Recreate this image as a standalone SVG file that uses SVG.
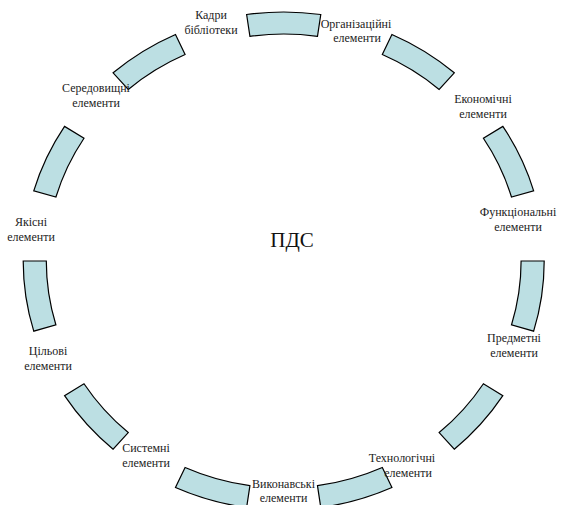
<svg xmlns="http://www.w3.org/2000/svg" width="569" height="505" viewBox="0 0 569 505">
<style>
.seg{fill:#BCDFE3;stroke:#000;stroke-width:1.2;stroke-linejoin:miter}
.lbl{font-family:"Liberation Serif","Times New Roman",serif;font-size:12px;fill:#222;text-anchor:middle}
.ctr{font-family:"Liberation Serif","Times New Roman",serif;font-size:21px;fill:#111;text-anchor:middle}
</style>
<rect width="569" height="505" fill="#fff"/>
<g id="connectors">
<path class="seg" d="M246.63 14.53 A260.5 249 0 0 1 320.77 14.53 L317.48 36.31 A237.4 227 0 0 0 249.92 36.31 Z"/>
<path class="seg" d="M391.92 34.50 A260.5 249 0 0 1 454.29 72.82 L439.16 89.44 A237.4 227 0 0 0 382.32 54.51 Z"/>
<path class="seg" d="M502.85 126.38 A260.5 249 0 0 1 533.65 190.85 L511.48 197.05 A237.4 227 0 0 0 483.41 138.27 Z"/>
<path class="seg" d="M544.2 261 A260.5 249 0 0 1 533.65 331.15 L511.48 324.95 A237.4 227 0 0 0 521.1 261 Z"/>
<path class="seg" d="M502.85 395.62 A260.5 249 0 0 1 454.29 449.18 L439.16 432.56 A237.4 227 0 0 0 483.41 383.73 Z"/>
<path class="seg" d="M391.92 487.50 A260.5 249 0 0 1 320.77 507.47 L317.48 485.69 A237.4 227 0 0 0 382.32 467.49 Z"/>
<path class="seg" d="M246.63 507.47 A260.5 249 0 0 1 175.48 487.50 L185.08 467.49 A237.4 227 0 0 0 249.92 485.69 Z"/>
<path class="seg" d="M113.11 449.18 A260.5 249 0 0 1 64.55 395.62 L83.99 383.73 A237.4 227 0 0 0 128.24 432.56 Z"/>
<path class="seg" d="M33.75 331.15 A260.5 249 0 0 1 23.2 261 L46.3 261 A237.4 227 0 0 0 55.92 324.95 Z"/>
<path class="seg" d="M33.75 190.85 A260.5 249 0 0 1 64.55 126.38 L83.99 138.27 A237.4 227 0 0 0 55.92 197.05 Z"/>
<path class="seg" d="M113.11 72.82 A260.5 249 0 0 1 175.48 34.50 L185.08 54.51 A237.4 227 0 0 0 128.24 89.44 Z"/>
</g>
<g id="center"><text class="ctr" x="292" y="247">ПДС</text></g>
<g id="n-kadry"><text class="lbl"><tspan x="211" y="19">Кадри</tspan><tspan x="211" y="33.5">бібліотеки</tspan></text></g>
<g id="n-org"><text class="lbl"><tspan x="356" y="27.5">Організаційні</tspan><tspan x="357" y="42">елементи</tspan></text></g>
<g id="n-ekon"><text class="lbl"><tspan x="483" y="103">Економічні</tspan><tspan x="483" y="118">елементи</tspan></text></g>
<g id="n-funk"><text class="lbl"><tspan x="518" y="216">Функціональні</tspan><tspan x="518" y="231">елементи</tspan></text></g>
<g id="n-predm"><text class="lbl"><tspan x="514" y="342">Предметні</tspan><tspan x="514" y="357">елементи</tspan></text></g>
<g id="n-tekhn"><text class="lbl"><tspan x="402" y="462">Технологічні</tspan><tspan x="408" y="477">елементи</tspan></text></g>
<g id="n-vykon"><text class="lbl"><tspan x="283.5" y="488">Виконавські</tspan><tspan x="283.5" y="502">елементи</tspan></text></g>
<g id="n-syst"><text class="lbl"><tspan x="146" y="452">Системні</tspan><tspan x="146" y="467">елементи</tspan></text></g>
<g id="n-cil"><text class="lbl"><tspan x="48" y="355">Цільові</tspan><tspan x="48" y="370">елементи</tspan></text></g>
<g id="n-yak"><text class="lbl"><tspan x="31" y="226">Якісні</tspan><tspan x="31" y="240.5">елементи</tspan></text></g>
<g id="n-sered"><text class="lbl"><tspan x="96" y="92">Середовищні</tspan><tspan x="96" y="106.5">елементи</tspan></text></g>
</svg>
